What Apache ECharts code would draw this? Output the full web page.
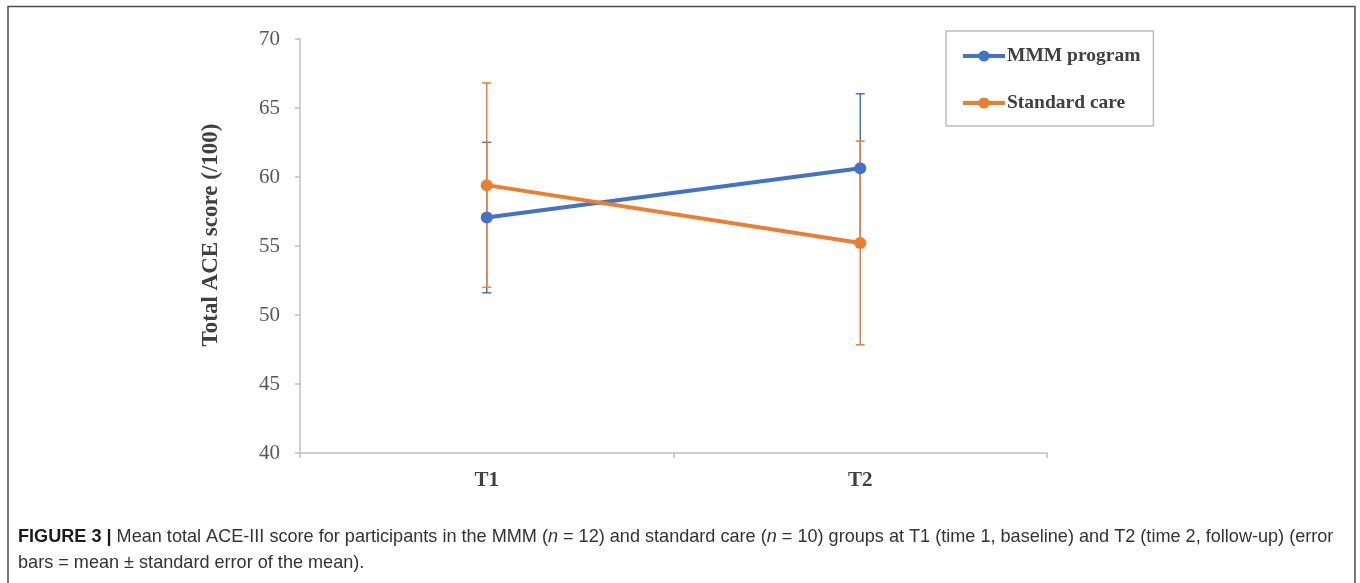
<!DOCTYPE html>
<html>
<head>
<meta charset="utf-8">
<script src="https://cdn.jsdelivr.net/npm/echarts@6/dist/echarts.min.js"></script>
<style>
html,body{margin:0;padding:0;background:#fff;}
#c{width:1360px;height:583px;}
</style>
</head>
<body>
<div id="c"></div>
<script>
const categories = ['T1', 'T2'];
const mmmMean = [57.06, 60.63];
const mmmSE = [5.45, 5.40];
const stdMean = [59.41, 55.22];
const stdSE = [7.41, 7.38];
const yTicks = [40, 45, 50, 55, 60, 65, 70];

const BLUE = '#4472C4';
const ORANGE = '#ED7D31';
const SERIF = '"Liberation Serif", "Times New Roman", serif';
const SANS = '"Liberation Sans", Arial, sans-serif';

function errData(mean, se) {
  return categories.map((c, i) => [i, mean[i] - se[i], mean[i] + se[i]]);
}
function errSeries(name, mean, se, color) {
  return {
    type: 'custom',
    name: name + ' err',
    silent: true,
    data: errData(mean, se),
    encode: { x: 0, y: [1, 2] },
    renderItem: function (params, api) {
      const x = api.value(0);
      const lo = api.coord([x, api.value(1)]);
      const hi = api.coord([x, api.value(2)]);
      const w = 4.5;
      const st = { stroke: color, lineWidth: 1.5 };
      return {
        type: 'group',
        children: [
          { type: 'line', shape: { x1: lo[0], y1: lo[1], x2: hi[0], y2: hi[1] }, style: st },
          { type: 'line', shape: { x1: lo[0] - w, y1: lo[1], x2: lo[0] + w, y2: lo[1] }, style: st },
          { type: 'line', shape: { x1: hi[0] - w, y1: hi[1], x2: hi[0] + w, y2: hi[1] }, style: st }
        ]
      };
    },
    z: 1
  };
}

const chart = echarts.init(document.getElementById('c'), null, { renderer: 'canvas' });
chart.setOption({
  animation: false,
  backgroundColor: '#fff',
  grid: { left: 300, right: 313, top: 39, bottom: 130 },
  legend: {
    data: ['MMM program', 'Standard care'],
    orient: 'vertical',
    left: 946,
    top: 31,
    padding: [15, 13, 13, 15],
    itemGap: 27,
    itemWidth: 42,
    itemHeight: 14,
    lineStyle: { width: 4 },
    borderColor: '#bfbfbf',
    borderWidth: 1.5,
    textStyle: { fontFamily: SERIF, fontWeight: 'bold', fontSize: 19.5, color: '#404040', padding: [0, 0, 0, -3] }
  },
  xAxis: {
    type: 'category',
    data: categories,
    boundaryGap: true,
    axisLine: { lineStyle: { color: '#bfbfbf', width: 1.5 } },
    axisTick: { show: true, length: 5, lineStyle: { color: '#bfbfbf', width: 1.5 } },
    axisLabel: { fontFamily: SERIF, fontWeight: 'bold', fontSize: 21, color: '#404040', margin: 17 },
    splitLine: { show: false }
  },
  yAxis: {
    type: 'value',
    min: yTicks[0],
    max: yTicks[yTicks.length - 1],
    interval: 5,
    axisLine: { show: true, lineStyle: { color: '#bfbfbf', width: 1.5 } },
    axisTick: { show: true, length: 5, lineStyle: { color: '#bfbfbf', width: 1.5 } },
    axisLabel: { fontFamily: SERIF, fontSize: 21, color: '#595959', margin: 20 },
    splitLine: { show: false }
  },
  series: [
    errSeries('MMM program', mmmMean, mmmSE, BLUE),
    errSeries('Standard care', stdMean, stdSE, ORANGE),
    {
      name: 'MMM program', type: 'line', data: mmmMean,
      symbol: 'circle', symbolSize: 12, z: 3,
      itemStyle: { color: BLUE },
      lineStyle: { color: BLUE, width: 4 }
    },
    {
      name: 'Standard care', type: 'line', data: stdMean,
      symbol: 'circle', symbolSize: 12, z: 3,
      itemStyle: { color: ORANGE },
      lineStyle: { color: ORANGE, width: 4 }
    }
  ],
  graphic: [
    {
      type: 'polyline',
      shape: { points: [[8, 590], [8, 6.5], [1355, 6.5], [1355, 590]] },
      style: { stroke: '#4d4d4d', lineWidth: 1.5, fill: null },
      silent: true
    },
    {
      type: 'text',
      x: 211, y: 235, rotation: Math.PI / 2,
      style: {
        text: 'Total ACE score (/100)',
        font: 'bold 23px ' + SERIF,
        fill: '#404040',
        align: 'center', verticalAlign: 'middle'
      }
    },
    {
      type: 'text',
      x: 18, y: 524,
      style: {
        text: '{b|FIGURE 3 |} Mean total ACE-III score for participants in the MMM ({i|n} = 12) and standard care ({i|n} = 10) groups at T1 (time 1, baseline) and T2 (time 2, follow-up) (error\nbars = mean ± standard error of the mean).',
        font: '18.1px ' + SANS,
        fill: '#333333',
        lineHeight: 26,
        verticalAlign: 'top',
        rich: {
          b: { font: 'bold 18.1px ' + SANS, fill: '#1a1a1a', lineHeight: 26 },
          i: { font: 'italic 18.1px ' + SANS, fill: '#333333', lineHeight: 26 }
        }
      }
    }
  ]
});
</script>
</body>
</html>
